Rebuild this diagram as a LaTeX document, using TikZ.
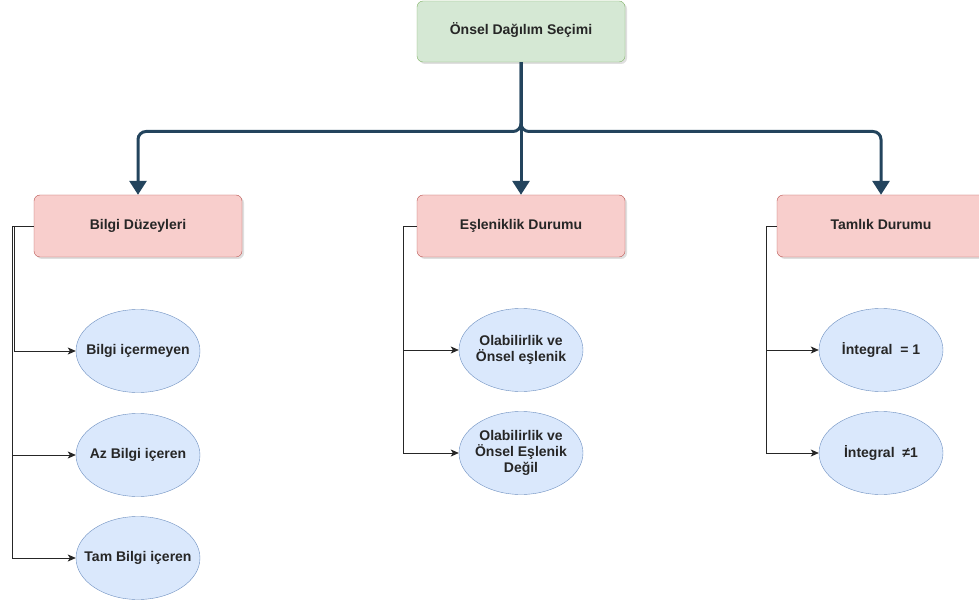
\documentclass[tikz,border=0pt]{standalone}
\usepackage{fontspec}
\setmainfont{Liberation Sans}
\usetikzlibrary{arrows.meta,shapes.geometric,shadows}
\definecolor{gfill}{HTML}{D5E8D4}
\definecolor{gline}{HTML}{82B366}
\definecolor{rfill}{HTML}{F8CECC}
\definecolor{rline}{HTML}{B85450}
\definecolor{bfill}{HTML}{DAE8FC}
\definecolor{bline}{HTML}{6C8EBF}
\definecolor{trunk}{HTML}{23445D}
\tikzset{
  lbl/.style={font=\fontsize{14}{16}\selectfont\bfseries, text=black!85, align=center},
  rootbox/.style={lbl, draw=gline, fill=gfill, rounded corners=6pt, minimum width=208pt, minimum height=61pt, inner sep=0pt,
     text height=10pt, text depth=3pt,
     drop shadow={opacity=0.25, shadow xshift=2pt, shadow yshift=-2pt}},
  catbox/.style={lbl, draw=rline, fill=rfill, rounded corners=6pt, minimum width=208pt, minimum height=62pt, inner sep=0pt,
     text height=10pt, text depth=3pt,
     drop shadow={opacity=0.25, shadow xshift=2pt, shadow yshift=-2pt}},
  leaf/.style={ellipse, draw=bline, fill=bfill, minimum width=124pt, minimum height=83pt, inner sep=0pt,
     label={[lbl]center:#1}}
}
\tikzset{
  bigarrow/.style={draw=trunk, line width=3pt, rounded corners=8pt, -{Triangle[width=17pt,length=14pt]}},
  smallarrow/.style={draw=black!85, line width=0.8pt, -{Stealth[width=7pt,length=8pt,inset=2pt]}}
}
\begin{document}
\begin{tikzpicture}[x=1pt,y=-1pt]
\useasboundingbox (0,0) rectangle (979,601);
\node[rootbox] (root) at (521,31.5) {Önsel Dağılım Seçimi};
\node[catbox] (c1) at (138,226) {Bilgi Düzeyleri};
\node[catbox] (c2) at (521,226) {Eşleniklik Durumu};
\node[catbox] (c3) at (881,226) {Tamlık Durumu};

\node[leaf={Bilgi içermeyen}] (l1) at (138,351) {};
\node[leaf={Az Bilgi içeren}] (l2) at (138,455) {};
\node[leaf={Tam Bilgi içeren}] (l3) at (138,558) {};
\node[leaf={Olabilirlik ve\\Önsel eşlenik}] (m1) at (521,350) {};
\node[leaf={Olabilirlik ve\\Önsel Eşlenik\\Değil}] (m2) at (521,453) {};
\node[leaf={İntegral \ = 1}] (r1) at (881,350) {};
\node[leaf={İntegral \ ≠1}] (r2) at (881,453) {};

\coordinate (hub) at (521,131.5);
\draw[bigarrow] (root.south) -- (hub) -| (c1.north);
\draw[bigarrow] (root.south) -- (hub) -| (c3.north);
\draw[bigarrow] (root.south) -- (c2.north);

\draw[smallarrow] (c1.west) -- ++(-19,0) |- (l1.west);
\draw[smallarrow] (c1.west) -- ++(-21.5,0) |- (l2.west);
\draw[smallarrow] (c1.west) -- ++(-21.5,0) |- (l3.west);
\draw[smallarrow] (c2.west) -- ++(-13,0) |- (m1.west);
\draw[smallarrow] (c2.west) -- ++(-13,0) |- (m2.west);
\draw[smallarrow] (c3.west) -- ++(-10,0) |- (r1.west);
\draw[smallarrow] (c3.west) -- ++(-10,0) |- (r2.west);
\end{tikzpicture}
\end{document}
